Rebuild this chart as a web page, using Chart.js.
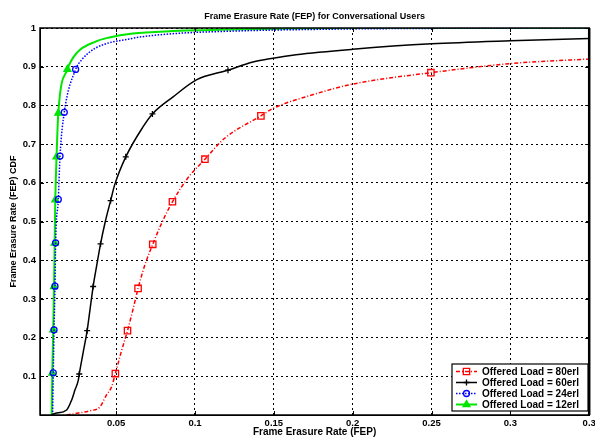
<!DOCTYPE html>
<html>
<head>
<meta charset="utf-8">
<script src="https://cdn.jsdelivr.net/npm/chart.js@4.4.1/dist/chart.umd.min.js"></script>
<style>
  body { margin: 0; background: #fff; }
  canvas { display: block; background: #fff; }
</style>
</head>
<body>
<canvas id="fepChart" width="595" height="437"></canvas>
<script>
const fep80 = [0.0186, 0.026, 0.0334, 0.0397, 0.0439, 0.0471, 0.0495, 0.053, 0.0572, 0.0605, 0.0639, 0.068, 0.0732, 0.079, 0.0857, 0.095, 0.1063, 0.1188, 0.1418, 0.1494, 0.175, 0.2, 0.2496, 0.3, 0.35];
const cdf80 = [0, 0.005, 0.011, 0.021, 0.052, 0.073, 0.107, 0.16, 0.218, 0.27, 0.327, 0.385, 0.441, 0.497, 0.551, 0.61, 0.661, 0.715, 0.773, 0.792, 0.828, 0.855, 0.8845, 0.908, 0.92];
const mark80X = [0.0495, 0.0572, 0.0639, 0.0732, 0.0857, 0.1063, 0.1418, 0.2496];
const mark80Y = [0.107, 0.218, 0.327, 0.441, 0.551, 0.661, 0.773, 0.8845];

const fep60 = [0.0091, 0.0112, 0.0186, 0.0218, 0.0239, 0.026, 0.0266, 0.029, 0.0316, 0.0335, 0.0354, 0.0377, 0.0401, 0.043, 0.0465, 0.049, 0.0561, 0.0671, 0.073, 0.0861, 0.1009, 0.1209, 0.1367, 0.1494, 0.164, 0.2, 0.25, 0.3, 0.35];
const cdf60 = [0, 0.004, 0.013, 0.039, 0.065, 0.09, 0.106, 0.16, 0.218, 0.275, 0.332, 0.387, 0.442, 0.498, 0.554, 0.594, 0.667, 0.745, 0.778, 0.822, 0.866, 0.891, 0.912, 0.922, 0.931, 0.945, 0.959, 0.967, 0.973];
const mark60X = [0.0266, 0.0316, 0.0354, 0.0401, 0.0465, 0.0561, 0.073, 0.1209];
const mark60Y = [0.106, 0.218, 0.332, 0.442, 0.554, 0.667, 0.778, 0.891];

const fep24 = [0.0097, 0.0101, 0.0106, 0.0112, 0.0116, 0.0133, 0.0144, 0.0171, 0.0243, 0.028, 0.0365, 0.06, 0.082, 0.124, 0.187, 0.25, 0.35];
const cdf24 = [0, 0.109, 0.22, 0.333, 0.445, 0.557, 0.669, 0.782, 0.893, 0.917, 0.947, 0.973, 0.984, 0.992, 0.997, 0.999, 1.0];
const mark24X = [0.0101, 0.0106, 0.0112, 0.0116, 0.0133, 0.0144, 0.0171, 0.0243];
const mark24Y = [0.109, 0.22, 0.333, 0.445, 0.557, 0.669, 0.782, 0.893];

const fep12 = [0.0091, 0.0095, 0.0101, 0.0106, 0.011, 0.0114, 0.0122, 0.0133, 0.0191, 0.0249, 0.037, 0.045, 0.0606, 0.086, 0.134, 0.2, 0.35];
const cdf12 = [0, 0.108, 0.22, 0.332, 0.444, 0.556, 0.667, 0.78, 0.893, 0.935, 0.965, 0.975, 0.986, 0.992, 0.997, 1.0, 1.0];
const mark12X = [0.0095, 0.0101, 0.0106, 0.011, 0.0114, 0.0122, 0.0133, 0.0191];
const mark12Y = [0.108, 0.22, 0.332, 0.444, 0.556, 0.667, 0.78, 0.893];

const loadNames = ['Offered Load = 80erl', 'Offered Load = 60erl', 'Offered Load = 24erl', 'Offered Load = 12erl'];

const xTicks = [0.05, 0.1, 0.15, 0.2, 0.25, 0.3, 0.35];
const xTickLabels = ['0.05', '0.1', '0.15', '0.2', '0.25', '0.3', '0.3'];
const yTicks = [0.1, 0.2, 0.3, 0.4, 0.5, 0.6, 0.7, 0.8, 0.9, 1];
const yTickLabels = ['0.1', '0.2', '0.3', '0.4', '0.5', '0.6', '0.7', '0.8', '0.9', '1'];

function toPoints(xs, ys) {
  return xs.map((x, i) => ({ x: x, y: ys[i] }));
}

const series = [
  { name: loadNames[0], xs: fep80, ys: cdf80, mx: mark80X, my: mark80Y, color: '#ff0000', width: 1.5, dash: [4, 2, 1, 2], marker: 'rect', radius: 4.5, fill: 'rgba(0,0,0,0)' },
  { name: loadNames[1], xs: fep60, ys: cdf60, mx: mark60X, my: mark60Y, color: '#000000', width: 1.5, dash: [], marker: 'cross', radius: 3, fill: 'rgba(0,0,0,0)' },
  { name: loadNames[2], xs: fep24, ys: cdf24, mx: mark24X, my: mark24Y, color: '#0000ff', width: 1.5, dash: [1.5, 1.5], marker: 'circle', radius: 3, fill: 'rgba(0,0,0,0)' },
  { name: loadNames[3], xs: fep12, ys: cdf12, mx: mark12X, my: mark12Y, color: '#00e600', width: 2, dash: [], marker: 'triangle', radius: 4, fill: '#00e600' }
];

const datasets = [];
series.forEach(s => {
  datasets.push({
    label: s.name,
    data: toPoints(s.xs, s.ys),
    showLine: true,
    borderColor: s.color,
    borderWidth: s.width,
    borderDash: s.dash,
    cubicInterpolationMode: 'monotone',
    pointRadius: 0,
    fill: false
  });
  datasets.push({
    label: s.name + ' markers',
    data: toPoints(s.mx, s.my),
    showLine: false,
    pointStyle: s.marker,
    pointRadius: s.radius,
    pointBorderColor: s.color,
    pointBackgroundColor: s.fill,
    pointBorderWidth: 1.3
  });
});

function drawMarker(ctx, s, x, y) {
  Chart.helpers.drawPoint(ctx, { pointStyle: s.marker, radius: s.radius, rotation: 0, borderWidth: 1.3 }, x, y);
}

const frameAndLegend = {
  id: 'frameAndLegend',
  afterDatasetsDraw(chart) {
    const ctx = chart.ctx;
    const area = chart.chartArea;
    const xs = chart.scales.x;
    const ys = chart.scales.y;
    ctx.save();
    // inward ticks on all four sides
    ctx.strokeStyle = '#000';
    ctx.lineWidth = 1;
    ctx.beginPath();
    xTicks.forEach(v => {
      const px = Math.round(xs.getPixelForValue(v)) + 0.5;
      ctx.moveTo(px, area.bottom); ctx.lineTo(px, area.bottom - 4);
      ctx.moveTo(px, area.top); ctx.lineTo(px, area.top + 4);
    });
    yTicks.forEach(v => {
      const py = Math.round(ys.getPixelForValue(v)) + 0.5;
      ctx.moveTo(area.left, py); ctx.lineTo(area.left + 4, py);
      ctx.moveTo(area.right, py); ctx.lineTo(area.right - 4, py);
    });
    ctx.stroke();
    // box
    ctx.lineWidth = 1.5;
    ctx.strokeRect(area.left, area.top, area.right - area.left, area.bottom - area.top);
    ctx.lineWidth = 2.5;
    ctx.beginPath();
    ctx.moveTo(area.right, area.top);
    ctx.lineTo(area.right, area.bottom);
    ctx.stroke();

    // legend box
    const bx = 452, by = 364, bw = 136, bh = 47;
    ctx.fillStyle = '#fff';
    ctx.fillRect(bx, by, bw, bh);
    ctx.lineWidth = 1.2;
    ctx.strokeStyle = '#000';
    ctx.strokeRect(bx, by, bw, bh);
    ctx.font = 'bold 10px "Liberation Sans", Arial, sans-serif';
    ctx.textBaseline = 'middle';
    ctx.textAlign = 'left';
    series.forEach((s, i) => {
      const ry = by + 7.5 + i * 11;
      ctx.strokeStyle = s.color;
      ctx.lineWidth = s.width;
      ctx.setLineDash(s.dash);
      ctx.beginPath();
      ctx.moveTo(bx + 4, ry);
      ctx.lineTo(bx + 25, ry);
      ctx.stroke();
      ctx.setLineDash([]);
      ctx.fillStyle = s.fill;
      ctx.lineWidth = 1.3;
      drawMarker(ctx, s, bx + 14.5, ry);
      ctx.fillStyle = '#000';
      ctx.fillText(s.name, bx + 30, ry + 0.5);
    });
    ctx.restore();
  }
};

Chart.defaults.font.family = '"Liberation Sans", Arial, sans-serif';
Chart.defaults.color = '#000';

new Chart(document.getElementById('fepChart'), {
  type: 'scatter',
  data: { datasets: datasets },
  options: {
    responsive: false,
    animation: false,
    layout: { padding: { left: 0, right: 4, top: 0, bottom: 0 } },
    plugins: {
      legend: { display: false },
      tooltip: { enabled: false },
      title: {
        display: true,
        fullSize: false,
        text: 'Frame Erasure Rate (FEP) for Conversational Users',
        font: { size: 9, weight: 'bold' },
        color: '#000',
        padding: { top: 11, bottom: 6.2 }
      }
    },
    scales: {
      x: {
        type: 'linear',
        min: 0.0017,
        max: 0.35,
        afterBuildTicks: scale => { scale.ticks = xTicks.map(v => ({ value: v })); },
        afterFit: scale => { scale.height = 22; scale.paddingLeft = 0; scale.paddingRight = 0; },
        ticks: {
          autoSkip: false,
          maxRotation: 0,
          padding: 3,
          font: { size: 9.5, weight: 'bold' },
          color: '#000',
          callback: (v, i) => xTickLabels[i]
        },
        grid: { color: '#000', lineWidth: 1, drawTicks: false },
        border: { display: true, color: '#000', width: 1, dash: [2, 3] },
        title: {
          display: true,
          text: 'Frame Erasure Rate (FEP)',
          font: { size: 10, weight: 'bold', lineHeight: 1 },
          color: '#000',
          padding: 0
        }
      },
      y: {
        type: 'linear',
        min: 0,
        max: 1,
        afterBuildTicks: scale => { scale.ticks = yTicks.map(v => ({ value: v })); },
        afterFit: scale => { scale.width = 40; scale.paddingTop = 0; scale.paddingBottom = 0; },
        ticks: {
          autoSkip: false,
          padding: 4,
          font: { size: 9.5, weight: 'bold' },
          color: '#000',
          callback: (v, i) => yTickLabels[i]
        },
        grid: { color: '#000', lineWidth: 1, drawTicks: false },
        border: { display: true, color: '#000', width: 1, dash: [2, 3] },
        title: {
          display: true,
          text: 'Frame Erasure Rate (FEP) CDF',
          font: { size: 9, weight: 'bold' },
          color: '#000',
          padding: { top: 8, bottom: 0 }
        }
      }
    }
  },
  plugins: [frameAndLegend]
});
</script>
</body>
</html>
